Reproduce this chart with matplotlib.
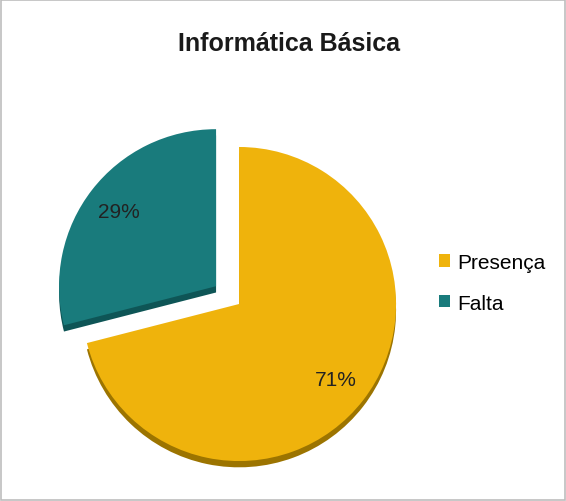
import matplotlib.pyplot as plt
from matplotlib.patches import Rectangle

# Data
labels = ["Presença", "Falta"]
values = [71, 29]
colors = ["#EFB30C", "#197B7C"]
side_colors = ["#9C7400", "#0E5556"]
explode = [0.0, 0.185]

plt.rcParams["font.family"] = ["Liberation Sans", "DejaVu Sans"]

fig = plt.figure(figsize=(5.66, 5.02), dpi=100)
fig.patch.set_facecolor("white")

# square axes so that the pie centre sits where it does in the original
ax = fig.add_axes([0.0866, 0.0139, 0.6714, 0.757])
lim = 1.21
ax.axis("off")

# fake 3D depth: a darker copy shifted down, drawn under the main pie
ax.pie(values, colors=side_colors, explode=explode, startangle=90,
       counterclock=False, center=(0, -0.04), radius=1.0,
       wedgeprops=dict(linewidth=0), frame=False)

wedges, texts, autotexts = ax.pie(
    values, colors=colors, explode=explode, startangle=90,
    counterclock=False, radius=1.0, autopct="%1.0f%%", pctdistance=0.78,
    wedgeprops=dict(linewidth=0), textprops=dict(fontsize=15, color="#222222"),
    frame=False)
ax.set_xlim(-lim, lim)
ax.set_ylim(-lim, lim)
ax.set_aspect("equal")

fig.text(0.51, 0.912, "Informática Básica", ha="center", va="center",
         fontsize=18, fontweight="bold", color="#1a1a1a")

fig.legend(wedges, labels, loc="center left", bbox_to_anchor=(0.742, 0.435),
           frameon=False, fontsize=15, handlelength=0.55, handleheight=0.55,
           handletextpad=0.35, labelspacing=1.05)

# thin grey border around the whole chart
fig.add_artist(Rectangle((0.001, 0.001), 0.997, 0.997, transform=fig.transFigure,
                         fill=False, edgecolor="#BDBDBD", linewidth=1.2))

fig.savefig("out.png", dpi=100)
